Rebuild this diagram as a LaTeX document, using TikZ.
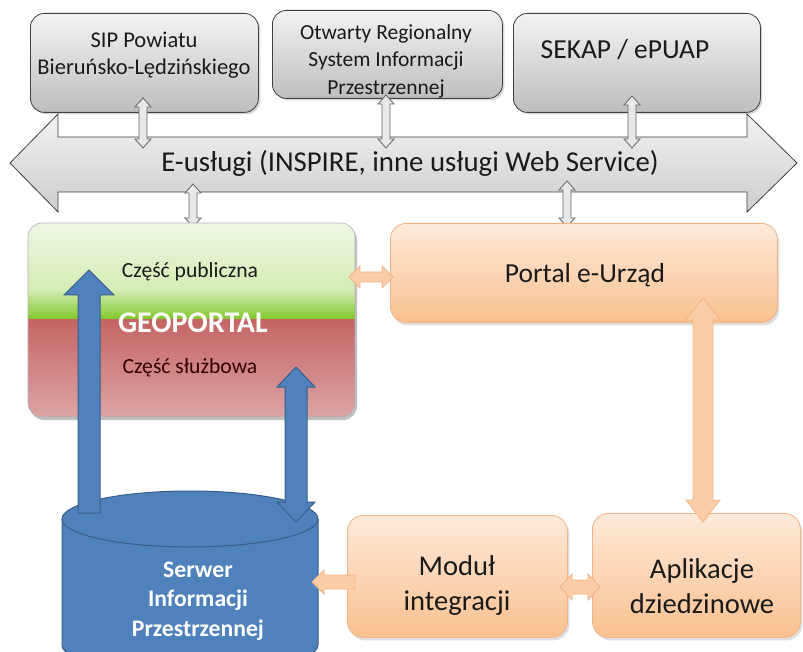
\documentclass[tikz,border=0pt]{standalone}
\usepackage{fontspec}
\setmainfont{Carlito}
\usetikzlibrary{shadows}
\definecolor{grayA}{HTML}{F3F3F3}
\definecolor{grayB}{HTML}{BEBEBE}
\definecolor{grayE}{HTML}{404040}
\definecolor{bandA}{HTML}{F2F2F2}
\definecolor{bandB}{HTML}{CDCDCD}
\definecolor{orA}{HTML}{FDEADA}
\definecolor{orB}{HTML}{FAC08F}
\definecolor{orE}{HTML}{F2B486}
\definecolor{orArr}{HTML}{FBCDA6}
\definecolor{blueF}{HTML}{4F81BD}
\definecolor{blueE}{HTML}{385D8A}
\definecolor{grA}{HTML}{EEF6E4}
\definecolor{grB}{HTML}{D5ECB4}
\definecolor{grC}{HTML}{7CC623}
\definecolor{rdA}{HTML}{C46464}
\definecolor{rdB}{HTML}{DDA5A5}
\definecolor{txt}{HTML}{1A1A1A}
\newcommand\vdarr[7]{%
 \draw[#1] ({#2},{#3}) -- ({#2+#6},{#3+#7}) -- ({#2+#5},{#3+#7}) -- ({#2+#5},{#4-#7}) -- ({#2+#6},{#4-#7}) -- ({#2},{#4}) -- ({#2-#6},{#4-#7}) -- ({#2-#5},{#4-#7}) -- ({#2-#5},{#3+#7}) -- ({#2-#6},{#3+#7}) -- cycle;}
\newcommand\hdarr[7]{%
 \draw[#1] ({#3},{#2}) -- ({#3+#7},{#2-#6}) -- ({#3+#7},{#2-#5}) -- ({#4-#7},{#2-#5}) -- ({#4-#7},{#2-#6}) -- ({#4},{#2}) -- ({#4-#7},{#2+#6}) -- ({#4-#7},{#2+#5}) -- ({#3+#7},{#2+#5}) -- ({#3+#7},{#2+#6}) -- cycle;}
\newcommand\uparr[7]{% style x ytip ytail sw hw hl
 \draw[#1] ({#2},{#3}) -- ({#2+#6},{#3+#7}) -- ({#2+#5},{#3+#7}) -- ({#2+#5},{#4}) -- ({#2-#5},{#4}) -- ({#2-#5},{#3+#7}) -- ({#2-#6},{#3+#7}) -- cycle;}
\newcommand\leftarr[7]{% style y xtip xtail sw hw hl
 \draw[#1] ({#3},{#2}) -- ({#3+#7},{#2-#6}) -- ({#3+#7},{#2-#5}) -- ({#4},{#2-#5}) -- ({#4},{#2+#5}) -- ({#3+#7},{#2+#5}) -- ({#3+#7},{#2+#6}) -- cycle;}
\tikzset{
 graybox/.style={draw=grayE, line width=0.8, rounded corners=14, top color=grayA, bottom color=grayB,
   drop shadow={opacity=0.3, shadow xshift=2pt, shadow yshift=-2pt}, anchor=north west, inner sep=0},
 orbox/.style={draw=orE, line width=0.8, rounded corners=16, top color=orA, bottom color=orB,
   drop shadow={opacity=0.25, shadow xshift=2pt, shadow yshift=-3pt}, anchor=north west, inner sep=0},
 band/.style={draw=grayE, line width=0.8, top color=bandA, bottom color=bandB},
 gsmall/.style={draw=grayE!80, line width=0.8, fill=gray!18},
 oarr/.style={draw=orE, line width=0.8, fill=orArr},
 barr/.style={draw=blueE, line width=1, fill=blueF},
 cyl/.style={draw=blueE, line width=1, fill=blueF},
 lbl/.style={text=txt, align=center, inner sep=0},
}
\begin{document}
\begin{tikzpicture}[x=1pt,y=-1pt]
\useasboundingbox[fill=white] (0,0) rectangle (803,652);

% top gray boxes
\node[graybox, minimum width=228, minimum height=99] (sip) at (30,13) {};
\node[graybox, minimum width=230, minimum height=88] (orsip) at (272,10) {};
\node[graybox, minimum width=247, minimum height=99] (sekap) at (513,13) {};

% e-services band
\draw[band] (10,163) -- (58,114) -- (58,137) -- (747,137) -- (747,114) -- (797,163)
  -- (747,212) -- (747,192) -- (58,192) -- (58,212) -- cycle;
\node[lbl, font=\fontsize{28.8}{34}\selectfont] (eus) at (410,163) {E-usługi (INSPIRE, inne usługi Web Service)};

% small gray double arrows
\vdarr{gsmall}{143}{98}{148}{4}{8}{9}
\vdarr{gsmall}{386}{95}{148}{4}{8}{9}
\vdarr{gsmall}{632}{96}{148}{4}{8}{9}
\vdarr{gsmall}{193}{184}{227}{4}{8}{9}
\vdarr{gsmall}{567}{181}{227}{4}{8}{9}

% GEOPORTAL
\node[minimum width=327, minimum height=194, anchor=north west, inner sep=0] (geo) at (28,223) {};
\fill[black, opacity=0.25, rounded corners=14] (30,226) rectangle (357,420);
\begin{scope}
\clip[rounded corners=14] (28,223) rectangle (355,417);
\shade[top color=grA, bottom color=grB] (28,222) rectangle (355,291);
\shade[top color=grB, bottom color=grC] (28,290) rectangle (355,320);
\shade[top color=rdA, bottom color=rdB] (28,319) rectangle (355,418);
\end{scope}
\draw[gray!60, line width=0.6, rounded corners=14] (28,223) rectangle (355,417);

% Portal e-Urzad
\node[orbox, minimum width=387, minimum height=99] (portal) at (390,223) {};

% lower orange boxes
\node[orbox, minimum width=220, minimum height=122] (modul) at (347,515) {};
\node[orbox, minimum width=208, minimum height=124] (apl) at (592,513) {};

% cylinder
\draw[cyl] (62,519) -- (62,645) arc[start angle=180, end angle=0, x radius=128, y radius=28] -- (318,519);
\draw[cyl] (190,519) ellipse[x radius=128, y radius=28];
\node[minimum width=256, minimum height=140, inner sep=0] (srv) at (190,580) {};

% blue arrows
\uparr{barr}{89}{270}{513}{11}{25}{25}
\vdarr{barr}{296}{367}{522}{11}{19}{20}

% orange arrows
\hdarr{oarr}{277}{349}{393}{5}{11}{11}
\vdarr{oarr}{703}{298}{522}{10}{17}{22}
\hdarr{oarr}{587}{560}{600}{7}{13}{12}
\leftarr{oarr}{582}{312}{355}{7}{12}{12}

% labels
\node[lbl, font=\fontsize{22.5}{27}\selectfont] (sipT) at (144,55) {SIP Powiatu\\Bieruńsko-Lędzińskiego};
\node[lbl, font=\fontsize{21.5}{27.5}\selectfont] (orsipT) at (386,61) {Otwarty Regionalny\\System Informacji\\Przestrzennej};
\node[lbl, font=\fontsize{27.5}{30}\selectfont] (sekapT) at (625,50) {SEKAP / ePUAP};
\node[lbl, font=\fontsize{21.6}{26}\selectfont] (pubT) at (190,272) {Część publiczna};
\node[lbl, text=white, font=\fontsize{30}{32}\selectfont\bfseries] (geoT) at (193,323) {GEOPORTAL};
\node[lbl, text=black!80!red, font=\fontsize{21.6}{26}\selectfont] (slT) at (190,368) {Część służbowa};
\node[lbl, font=\fontsize{27.5}{30}\selectfont] (portalT) at (585,275) {Portal e-Urząd};
\node[lbl, font=\fontsize{28.6}{35}\selectfont] (modulT) at (457,586) {Moduł\\integracji};
\node[lbl, font=\fontsize{28.6}{35}\selectfont] (aplT) at (702,586) {Aplikacje\\dziedzinowe};
\node[lbl, text=white, font=\fontsize{23.7}{29.5}\selectfont\bfseries] (srvT) at (198,601) {Serwer\\Informacji\\Przestrzennej};
\end{tikzpicture}
\end{document}
